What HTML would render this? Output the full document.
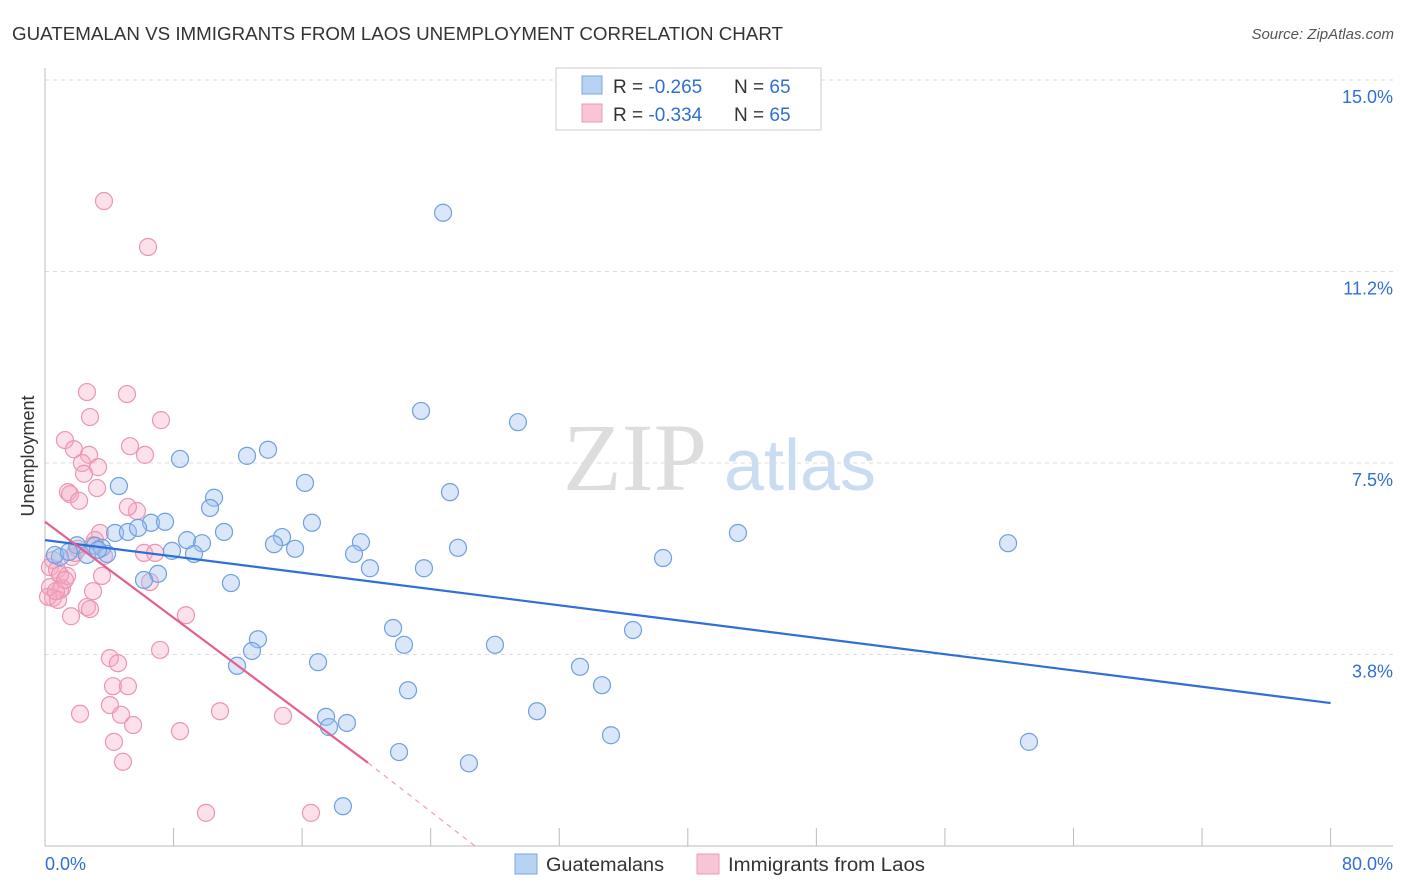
<!DOCTYPE html>
<html><head><meta charset="utf-8">
<style>
body{margin:0;background:#fff;font-family:"Liberation Sans",sans-serif;}
#wrap{position:relative;width:1406px;height:892px;overflow:hidden;}
</style></head>
<body>
<div id="wrap">
<svg id="svg" width="1406" height="892" xmlns="http://www.w3.org/2000/svg">
<text x="12" y="40" font-size="18" fill="#333" textLength="771" lengthAdjust="spacingAndGlyphs">GUATEMALAN VS IMMIGRANTS FROM LAOS UNEMPLOYMENT CORRELATION CHART</text>
<text x="1394" y="39" font-size="15" fill="#555" font-style="italic" text-anchor="end">Source: ZipAtlas.com</text>
<text x="34" y="456" font-size="18" fill="#333" text-anchor="middle" transform="rotate(-90 34 456)">Unemployment</text>
<g>
<text x="635" y="490" font-size="96" fill="#ddd" font-family="Liberation Serif,serif" text-anchor="middle">ZIP</text>
<text x="800" y="490" font-size="72" fill="#c9dcf2" text-anchor="middle">atlas</text>
</g>
<g id="grid"></g>
<g id="marks"></g>
<g>
<rect x="556" y="68" width="265" height="62" fill="#fff" stroke="#ccc"/>
<rect x="582" y="76" width="20" height="18" fill="#b8d2f3" stroke="#7aa8e0"/>
<rect x="582" y="104" width="20" height="18" fill="#f8c5d5" stroke="#eb9ab5"/>
<text x="613" y="93" font-size="19" fill="#333">R = <tspan fill="#2f6fd6">-0.265</tspan></text>
<text x="734" y="93" font-size="19" fill="#333">N = <tspan fill="#2f6fd6">65</tspan></text>
<text x="613" y="121" font-size="19" fill="#333">R = <tspan fill="#2f6fd6">-0.334</tspan></text>
<text x="734" y="121" font-size="19" fill="#333">N = <tspan fill="#2f6fd6">65</tspan></text>
</g>
<g>
<rect x="515" y="854" width="22" height="20" fill="#b8d2f3" stroke="#7aa8e0"/>
<text x="546" y="871" font-size="19" fill="#333" textLength="118" lengthAdjust="spacingAndGlyphs">Guatemalans</text>
<rect x="697" y="854" width="22" height="20" fill="#f8c5d5" stroke="#eb9ab5"/>
<text x="728" y="871" font-size="19" fill="#333" textLength="197" lengthAdjust="spacingAndGlyphs">Immigrants from Laos</text>
</g>
</svg>
</div>
<script>
const yTicks=[15.0,11.25,7.5,3.75];
const yTickLabels=["15.0%","11.2%","7.5%","3.8%"];
const xTickValues=[0,8,16,24,32,40,48,56,64,72,80];
const xEndLabels=["0.0%","80.0%"];
const blueX=[24.77,23.40,29.43,13.88,12.57,8.40,16.18,4.60,25.20,10.52,10.27,16.61,6.60,7.47,11.14,4.36,5.16,5.79,14.75,14.25,8.84,9.77,19.66,15.56,25.70,19.23,7.90,9.27,1.99,3.11,3.55,3.86,2.61,0.93,0.62,1.49,43.12,59.93,38.46,20.22,23.58,7.03,6.16,11.57,21.66,36.59,13.25,22.34,28.00,12.88,16.99,11.95,33.29,34.66,22.59,30.62,17.49,18.79,17.67,35.22,61.23,22.03,26.38,18.54,3.30];
const blueY=[12.40,8.52,8.30,7.76,7.64,7.58,7.11,7.05,6.93,6.82,6.62,6.33,6.33,6.35,6.15,6.13,6.15,6.23,6.05,5.91,5.99,5.93,5.95,5.82,5.84,5.72,5.78,5.72,5.89,5.88,5.84,5.72,5.70,5.66,5.70,5.76,6.13,5.93,5.64,5.44,5.44,5.33,5.21,5.15,4.27,4.23,4.05,3.94,3.94,3.82,3.60,3.53,3.51,3.15,3.05,2.64,2.53,2.41,2.33,2.17,2.04,1.84,1.62,0.78,5.80];
const pinkX=[3.67,6.41,2.61,5.10,2.80,7.22,1.24,5.29,1.80,2.74,6.22,2.30,3.30,2.43,1.43,1.56,3.24,2.12,5.72,5.16,3.42,3.11,2.99,2.05,3.67,6.16,6.85,1.68,0.50,0.31,0.75,1.37,3.55,0.93,0.31,1.06,6.53,0.93,2.99,0.50,0.19,0.81,2.61,2.80,1.62,8.77,7.16,4.04,4.54,4.23,5.16,4.04,10.89,2.18,4.73,14.81,5.48,8.40,4.29,4.85,10.02,16.55,0.68,1.24,1.87];
const pinkY=[12.63,11.73,8.89,8.85,8.40,8.34,7.95,7.83,7.77,7.66,7.66,7.50,7.42,7.29,6.93,6.89,7.01,6.76,6.56,6.64,6.13,5.99,5.89,5.82,5.68,5.74,5.74,5.66,5.60,5.46,5.41,5.29,5.29,5.31,5.07,5.05,5.17,5.01,4.99,4.86,4.88,4.82,4.68,4.64,4.50,4.52,3.84,3.68,3.58,3.13,3.13,2.76,2.64,2.59,2.57,2.55,2.37,2.25,2.04,1.65,0.65,0.65,4.99,5.21,5.74];
const blueTrend=[[0,5.99],[80,2.80]];
const pinkTrend=[[0,6.35],[20.1,1.63]];
const pinkTrendDash=[[20.1,1.63],[26.76,0]];

const NS="http://www.w3.org/2000/svg";
const X=v=>45+v*16.07;
const Y=v=>80+(15-v)*51.07;
function mk(tag,attrs,parent){const e=document.createElementNS(NS,tag);for(const k in attrs)e.setAttribute(k,attrs[k]);parent.appendChild(e);return e;}
const grid=document.getElementById('grid'),marks=document.getElementById('marks');
yTicks.forEach((t,i)=>{
  const l=mk('line',{x1:45,x2:1393,y1:Y(t),y2:Y(t),stroke:'#ddd','stroke-dasharray':'4,4'},grid);
  
  
  const tx=mk('text',{x:1393,y:Y(t)+23,'font-size':18,fill:'#2f6fd6','text-anchor':'end'},grid);
  tx.textContent=yTickLabels[i];
  
  
});
const ya=mk('line',{x1:45,x2:45,y1:68,y2:846,stroke:'#bbb'},grid);


const xa=mk('line',{x1:45,x2:1393,y1:846,y2:846,stroke:'#bbb'},grid);


xTickValues.forEach(t=>{
  const l=mk('line',{x1:X(t),x2:X(t),y1:828,y2:846,stroke:'#bbb'},grid);
  
  
});
[[0,'start',45],[80,'end',1393]].forEach((d,i)=>{
  const tx=mk('text',{x:d[2],y:870,'font-size':18,fill:'#2f6fd6','text-anchor':d[1]},grid);
  tx.textContent=xEndLabels[i];
  
  
});
function pts(xs,ys,fill,stroke,name){
  xs.forEach((x,i)=>{
    const c=mk('circle',{cx:X(x),cy:Y(ys[i]),r:8.5,fill:fill,stroke:stroke,'stroke-width':1.2},marks);
    
    
  });
}
pts(pinkX,pinkY,'rgba(245,170,195,0.35)','#eb95b3','point-laos');
pts(blueX,blueY,'rgba(160,195,240,0.4)','#6fa0e0','point-guatemalan');
function ln(p,stroke,dash,name,w){
  const l=mk('line',{x1:X(p[0][0]),y1:Y(p[0][1]),x2:X(p[1][0]),y2:Y(p[1][1]),stroke:stroke,'stroke-width':w},marks);
  if(dash)l.setAttribute('stroke-dasharray',dash);
  
  
}
ln(blueTrend,'#2f6fd6',null,'trend-line-guatemalans',2.2);
ln(pinkTrend,'#e5608c',null,'trend-line-laos',2.2);
ln(pinkTrendDash,'#eba0b8','5,5','trend-line-laos-extension',1.2);
</script>
</body></html>
